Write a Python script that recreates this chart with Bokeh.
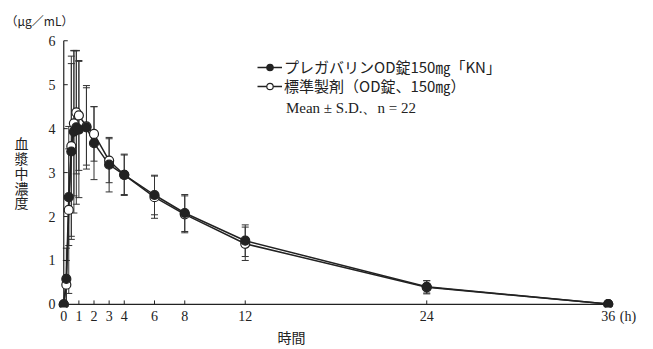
import math
from bokeh.plotting import figure
from bokeh.models import (ColumnDataSource, Whisker, TeeHead, Label, Legend, LegendItem,
                          FixedTicker, Range1d, LinearAxis, Title)
from bokeh.embed import file_html
from bokeh.resources import INLINE

# ---- data ----
time_h = [0, 0.17, 0.33, 0.5, 0.67, 0.83, 1, 1.5, 2, 3, 4, 6, 8, 12, 24, 36]
test_mean = [0, 0.58, 2.44, 3.48, 3.93, 4.03, 3.98, 4.03, 3.67, 3.18, 2.95, 2.49, 2.08, 1.45, 0.40, 0.01]
test_sd = [0, 0.70, 1.10, 2.00, 1.85, 1.75, 1.55, 0.95, 0.83, 0.62, 0.47, 0.45, 0.42, 0.36, 0.14, 0.0]
ref_mean = [0, 0.45, 2.15, 3.60, 4.12, 4.37, 4.30, 4.05, 3.88, 3.27, 2.95, 2.44, 2.05, 1.38, 0.39, 0.01]
ref_sd = [0, 0.55, 1.90, 2.05, 1.65, 1.40, 1.25, 0.88, 0.62, 0.50, 0.45, 0.48, 0.42, 0.38, 0.15, 0.0]
x_ticks = [0, 1, 2, 3, 4, 6, 8, 12, 24, 36]
y_ticks = [0, 1, 2, 3, 4, 5, 6]
test_name = "プレガバリンOD錠150㎎「KN」"
ref_name = "標準製剤（OD錠、150㎎）"
stat_note = "Mean ± S.D.、n = 22"
y_unit = "（μg／mL）"
x_unit = "(h)"
y_title = "血漿中濃度"
x_title = "時間"

# ---- layout constants (positions in axis units, not data) ----
UNIT_X = 37.3          # where "(h)" sits on the time axis
XTITLE_X = 15.06       # centre of "時間"
YTITLE_MID, YTITLE_STEP = 3.0, 0.34

SERIF = "Liberation Serif"
JP = "Noto Sans CJK JP"
INK = "#222222"

p = figure(width=653, height=349, output_backend="svg", toolbar_location=None,
           x_range=Range1d(-0.48, 38.2), y_range=Range1d(-0.07, 6.165),
           x_axis_type=None, y_axis_type=None,
           min_border_left=56, min_border_right=12, min_border_top=33, min_border_bottom=42)
p.outline_line_color = None
p.background_fill_color = "white"


def label_axis(ticks, overrides, font, size, standoff):
    ax = LinearAxis(ticker=FixedTicker(ticks=ticks), major_label_overrides=overrides)
    ax.axis_line_color = None
    ax.major_tick_line_color = None
    ax.minor_tick_line_color = None
    ax.major_tick_in = 0
    ax.major_tick_out = 0
    ax.major_label_standoff = standoff
    ax.major_label_text_font = font
    ax.major_label_text_font_size = size
    ax.major_label_text_color = INK
    return ax


# tick labels (outside the frame)
p.add_layout(label_axis(x_ticks + [UNIT_X], {UNIT_X: x_unit}, SERIF, "14px", 1), "below")
p.add_layout(label_axis(y_ticks, {}, SERIF, "14px", 1), "left")
# axis titles, also drawn as axis labels so they stay outside the frame
p.add_layout(label_axis([XTITLE_X], {XTITLE_X: x_title}, JP, "14px", 0), "below")
n = len(y_title)
char_pos = [round(YTITLE_MID + (n // 2 - i) * YTITLE_STEP, 3) for i in range(n)]
p.add_layout(label_axis(char_pos, {v: c for v, c in zip(char_pos, y_title)}, JP, "14px", 17),
             "left")

# axis lines and inward ticks through the data origin
p.line([0, max(x_ticks)], [0, 0], line_color=INK, line_width=1.2)
p.line([0, 0], [0, max(y_ticks)], line_color=INK, line_width=1.2)
p.ray(x=x_ticks, y=[0] * len(x_ticks), length=4, length_units="screen",
      angle=math.pi / 2, line_color=INK, line_width=1)
p.ray(x=[0] * len(y_ticks), y=y_ticks, length=4, length_units="screen",
      angle=0, line_color=INK, line_width=1)

src_t = ColumnDataSource(dict(x=time_h, y=test_mean,
                              lo=[m - s for m, s in zip(test_mean, test_sd)],
                              hi=[m + s for m, s in zip(test_mean, test_sd)]))
src_r = ColumnDataSource(dict(x=time_h, y=ref_mean,
                              lo=[m - s for m, s in zip(ref_mean, ref_sd)],
                              hi=[m + s for m, s in zip(ref_mean, ref_sd)]))

for src in (src_r, src_t):
    w = Whisker(source=src, base="x", upper="hi", lower="lo",
                line_color="#333333", line_width=1, level="underlay",
                upper_head=TeeHead(size=7, line_color="#333333", line_width=1),
                lower_head=TeeHead(size=7, line_color="#333333", line_width=1))
    p.add_layout(w)

lr = p.line("x", "y", source=src_r, line_color=INK, line_width=1.5)
lt = p.line("x", "y", source=src_t, line_color=INK, line_width=1.5)
sr = p.scatter("x", "y", source=src_r, size=9, marker="circle",
               fill_color="white", line_color=INK, line_width=1.2)
st = p.scatter("x", "y", source=src_t, size=9, marker="circle",
               fill_color=INK, line_color=INK, line_width=1.2)

common = dict(padding=0, margin=0, spacing=0, glyph_width=25, glyph_height=16,
              label_standoff=2, label_text_font=JP, label_text_font_size="15px",
              label_text_color=INK, background_fill_alpha=0, border_line_color=None)
p.add_layout(Legend(items=[LegendItem(label=test_name, renderers=[lt, st])],
                    location=(201, 230), **common))
p.add_layout(Legend(items=[LegendItem(label=ref_name, renderers=[lr, sr])],
                    location=(201, 211), **common))

p.add_layout(Label(x=14.69, y=4.47, text=stat_note, text_font=SERIF, text_font_size="15px",
                   text_color=INK, text_baseline="middle"))

p.add_layout(Title(text=y_unit, align="left", offset=-51, standoff=10, text_font=JP,
                   text_font_size="12px", text_font_style="normal", text_color=INK), "above")

open("out.html", "w").write(file_html(p, INLINE))
